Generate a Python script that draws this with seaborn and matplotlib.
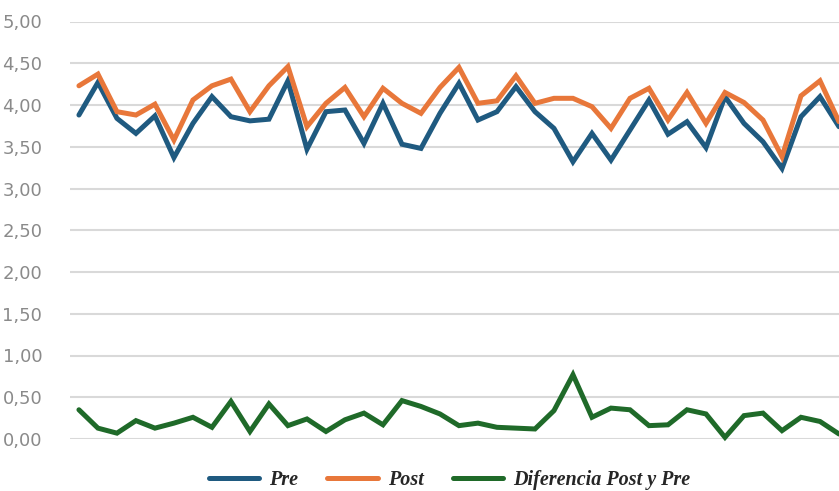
import numpy as np
import pandas as pd
import matplotlib
matplotlib.use("Agg")
import matplotlib.pyplot as plt
import seaborn as sns
from matplotlib.ticker import FuncFormatter, MultipleLocator

# Mean scores per item, before and after, and their difference
items = list(range(1, 42))
pre = [3.88, 4.27, 3.84, 3.66, 3.87, 3.37, 3.78, 4.10, 3.86, 3.81,
       3.83, 4.29, 3.47, 3.92, 3.94, 3.54, 4.02, 3.53, 3.48, 3.90,
       4.26, 3.82, 3.92, 4.22, 3.92, 3.72, 3.32, 3.66, 3.34, 3.70,
       4.06, 3.65, 3.80, 3.49, 4.10, 3.78, 3.56, 3.24, 3.86, 4.10,
       3.74]
post = [4.23, 4.37, 3.92, 3.88, 4.01, 3.58, 4.06, 4.23, 4.31, 3.92,
        4.23, 4.46, 3.74, 4.02, 4.21, 3.86, 4.20, 4.02, 3.90, 4.21,
        4.45, 4.02, 4.05, 4.35, 4.02, 4.08, 4.08, 3.98, 3.72, 4.08,
        4.20, 3.82, 4.15, 3.78, 4.15, 4.03, 3.82, 3.38, 4.11, 4.29,
        3.80]
diff = [0.35, 0.13, 0.07, 0.22, 0.13, 0.19, 0.26, 0.14, 0.45, 0.09,
        0.42, 0.16, 0.24, 0.09, 0.23, 0.31, 0.17, 0.46, 0.39, 0.30,
        0.16, 0.19, 0.14, 0.13, 0.12, 0.34, 0.77, 0.26, 0.37, 0.35,
        0.16, 0.17, 0.35, 0.30, 0.02, 0.28, 0.31, 0.10, 0.26, 0.21,
        0.06]
series_names = ["Pre", "Post", "Diferencia Post y Pre"]
series_colors = ["#1f5a80", "#e8773a", "#1f6a29"]

df = pd.DataFrame({
    "item": items * 3,
    "valor": pre + post + diff,
    "serie": [series_names[0]] * len(items) + [series_names[1]] * len(items)
             + [series_names[2]] * len(items),
})

sns.set_theme(style="white")
fig = plt.figure(figsize=(8.39, 4.91), dpi=100)
ax = fig.add_axes([70 / 839, (491 - 439) / 491, 1 - 70 / 839, (439 - 21.5) / 491])

sns.lineplot(data=df, x="item", y="valor", hue="serie", hue_order=series_names,
             palette=series_colors, linewidth=3.6, ax=ax, legend=True,
             solid_joinstyle="miter")
for line in ax.lines:
    line.set_clip_on(False)

ax.set_xlim(1 - 0.47, 41)
ax.set_ylim(0, 5)
ax.yaxis.set_major_locator(MultipleLocator(0.5))
ax.yaxis.set_major_formatter(FuncFormatter(lambda v, p: f"{v:.2f}".replace(".", ",")))
ax.set_xticks([])
ax.set_xlabel("")
ax.set_ylabel("")
ax.grid(axis="y", color="#d9d9d9", linewidth=1.5)
ax.set_axisbelow(True)
for s in ax.spines.values():
    s.set_visible(False)
ax.tick_params(axis="y", length=0, pad=20, labelsize=13, labelcolor="#8a8a8a")
for lbl in ax.get_yticklabels():
    lbl.set_fontfamily("DejaVu Sans")

handles, labels = ax.get_legend_handles_labels()
ax.get_legend().remove()
fig.legend(handles, labels, loc="center", bbox_to_anchor=(0.536, 0.022),
           ncol=3, frameon=False, handlelength=2.5, handletextpad=0.5,
           columnspacing=1.45, borderpad=0,
           prop={"family": "Liberation Serif", "style": "italic",
                 "weight": "bold", "size": 14.5})

fig.savefig("out.png", dpi=100)
